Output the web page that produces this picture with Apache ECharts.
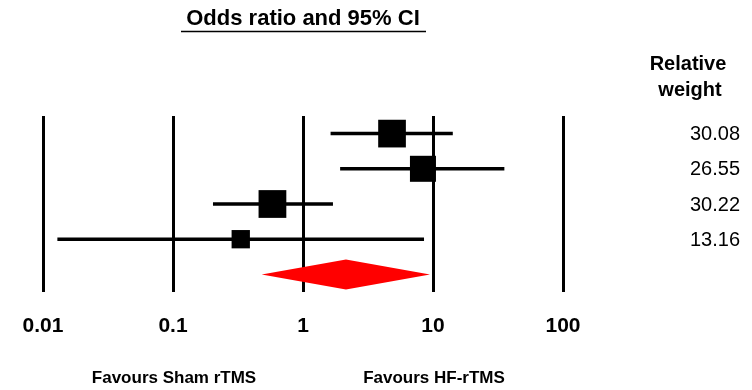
<!DOCTYPE html>
<html>
<head>
<meta charset="utf-8">
<script src="https://cdn.jsdelivr.net/npm/echarts@6/dist/echarts.min.js"></script>
<style>html,body{margin:0;padding:0;background:#fff}#c{width:752px;height:390px}</style>
</head>
<body>
<div id="c"></div>
<script>
// Data
var oddsRatio = [4.84, 8.37, 0.582, 0.332];
var ciLower   = [1.63, 1.93, 0.203, 0.0129];
var ciUpper   = [14.2, 35.4, 1.70, 8.53];
var weights   = ['30.08', '26.55', '30.22', '13.16'];
var pooled    = [0.481, 2.14, 9.48]; // lower, estimate, upper
var tickLabels = ['0.01', '0.1', '1', '10', '100'];

var FONT = '"Liberation Sans", Arial, sans-serif';

var studyData = oddsRatio.map(function (v, i) {
  return [v, ciLower[i], ciUpper[i], +weights[i], i + 0.5];
});
var pooledData = [[pooled[1], pooled[0], pooled[2], 0, 4.5]];

var chart = echarts.init(document.getElementById('c'), null, {renderer: 'canvas'});
chart.setOption({
  animation: false,
  grid: {left: 43, width: 520, top: 116, height: 176},
  xAxis: {
    type: 'log', logBase: 10, min: 0.01, max: 100,
    axisLine: {show: false}, axisTick: {show: false},
    splitLine: {show: true, lineStyle: {color: '#000', width: 3}},
    axisLabel: {
      margin: 24, color: '#000', fontSize: 21, fontWeight: 'bold', fontFamily: FONT,
      formatter: function (v, i) { return tickLabels[i]; }
    }
  },
  yAxis: {type: 'value', min: 0, max: 5, inverse: true, show: false},
  series: [
    {
      type: 'custom', data: studyData, encode: {x: [0, 1, 2], y: 4},
      renderItem: function (params, api) {
        var y = api.value(4);
        var c = api.coord([api.value(0), y]);
        var l = api.coord([api.value(1), y]);
        var r = api.coord([api.value(2), y]);
        var s = 5.05 * Math.sqrt(api.value(3));
        return {
          type: 'group',
          children: [
            {type: 'line', shape: {x1: l[0], y1: l[1], x2: r[0], y2: r[1]},
             style: {stroke: '#000', lineWidth: 3.5}},
            {type: 'rect', shape: {x: c[0] - s / 2, y: c[1] - s / 2, width: s, height: s},
             style: {fill: '#000'}},
            {type: 'text', x: 740, y: c[1] + 1,
             style: {text: weights[params.dataIndex], align: 'right', verticalAlign: 'middle',
                     font: '20px ' + FONT, fill: '#000'}}
          ]
        };
      }
    },
    {
      type: 'custom', data: pooledData, encode: {x: [0, 1, 2], y: 4},
      renderItem: function (params, api) {
        var y = api.value(4);
        var c = api.coord([api.value(0), y]);
        var l = api.coord([api.value(1), y]);
        var r = api.coord([api.value(2), y]);
        var h = 15;
        return {
          type: 'polygon',
          shape: {points: [[l[0], c[1]], [c[0], c[1] - h], [r[0], c[1]], [c[0], c[1] + h]]},
          style: {fill: '#ff0000'}
        };
      }
    }
  ],
  graphic: [
    {type: 'text', x: 303, y: 19,
     style: {text: 'Odds ratio and 95% CI', align: 'center', verticalAlign: 'middle',
             font: 'bold 22px ' + FONT, fill: '#000'}},
    {type: 'line', shape: {x1: 181, y1: 31.5, x2: 426, y2: 31.5}, style: {stroke: '#000', lineWidth: 1.5}},
    {type: 'text', x: 688, y: 64,
     style: {text: 'Relative', align: 'center', verticalAlign: 'middle',
             font: 'bold 20px ' + FONT, fill: '#000'}},
    {type: 'text', x: 690, y: 90,
     style: {text: 'weight', align: 'center', verticalAlign: 'middle',
             font: 'bold 20px ' + FONT, fill: '#000'}},
    {type: 'text', x: 174, y: 378,
     style: {text: 'Favours Sham rTMS', align: 'center', verticalAlign: 'middle',
             font: 'bold 17px ' + FONT, fill: '#000'}},
    {type: 'text', x: 434, y: 378,
     style: {text: 'Favours HF-rTMS', align: 'center', verticalAlign: 'middle',
             font: 'bold 17px ' + FONT, fill: '#000'}}
  ]
});
</script>
</body>
</html>
